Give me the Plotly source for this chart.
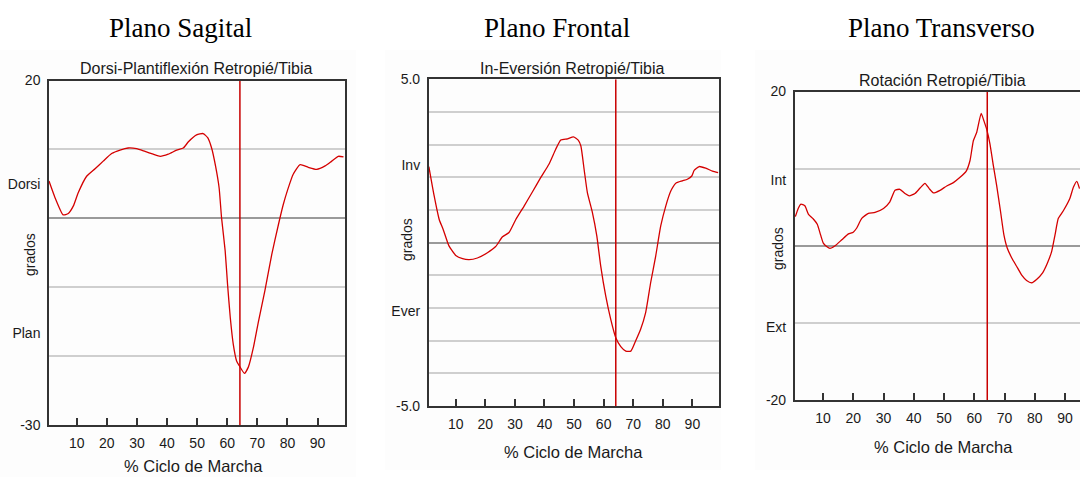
import plotly.graph_objects as go

# ---------------- data ----------------
# Panel 1: Dorsi-Plantiflexión Retropié/Tibia
sag_x = [0.8, 2.8, 5.5, 7.2, 8.9, 10.5, 13.3, 16.1, 18.8, 21.6, 24.4, 27.1, 29.9, 32.7, 35.4, 37.7,
         40.4, 43.2, 45.4, 47.1, 49.8, 52.0, 53.5, 54.8, 56.1, 57.3, 58.1, 59.3, 60.1, 61.0, 62.0,
         63.1, 64.0, 65.7, 67.0, 68.7, 70.3, 72.5, 74.8, 77.0, 78.6, 80.1, 81.9, 84.2, 86.9, 89.7,
         92.5, 94.7, 96.9, 98.6]
sag_y = [5.4, 3.0, 0.5, 0.7, 1.8, 3.7, 6.1, 7.2, 8.3, 9.4, 9.9, 10.2, 10.1, 9.7, 9.3, 9.0,
         9.3, 9.9, 10.2, 11.1, 12.1, 12.3, 11.7, 10.2, 7.6, 4.4, 0.1, -4.7, -9.6, -14.4, -18.3,
         -20.7, -21.4, -22.5, -21.6, -18.7, -15.1, -10.5, -5.2, -0.9, 2.0, 4.2, 6.4, 7.8, 7.4, 7.1,
         7.6, 8.3, 9.0, 8.9]

# Panel 2: In-Eversión Retropié/Tibia
fro_x = [0.9, 2.7, 4.4, 5.8, 7.7, 10.0, 12.3, 14.5, 17.3, 20.7, 23.5, 25.8, 28.0, 30.3, 33.1, 35.9,
         38.7, 41.5, 43.8, 45.5, 47.8, 49.8, 51.4, 52.3, 53.4, 54.5, 56.2, 57.7, 59.0, 60.7, 62.4,
         64.1, 65.8, 67.5, 69.2, 70.8, 72.5, 74.2, 75.9, 77.6, 79.3, 81.0, 82.7, 84.4, 86.6, 88.3,
         89.8, 90.6, 92.3, 94.5, 96.8, 98.7]
fro_y = [2.33, 1.43, 0.71, 0.39, -0.10, -0.39, -0.49, -0.52, -0.47, -0.31, -0.12, 0.18, 0.31, 0.71,
         1.12, 1.55, 1.99, 2.40, 2.86, 3.14, 3.18, 3.24, 3.14, 2.96, 2.24, 1.53, 0.92, 0.20, -0.71,
         -1.63, -2.35, -2.91, -3.18, -3.32, -3.32, -3.01, -2.65, -2.14, -1.22, -0.41, 0.51, 1.12,
         1.58, 1.82, 1.89, 1.94, 2.04, 2.21, 2.33, 2.28, 2.19, 2.14]

# Panel 3: Rotación Retropié/Tibia
tra_x = [0.85, 1.8, 2.7, 4.0, 5.2, 6.8, 8.1, 9.2, 10.1, 11.2, 12.3, 14.0, 16.2, 18.4, 20.0, 21.1,
         22.8, 25.0, 27.2, 30.0, 32.1, 33.8, 35.4, 37.1, 38.5, 40.4, 42.1, 43.7, 45.1, 46.5, 48.7,
         50.9, 53.1, 55.3, 57.3, 58.6, 59.7, 60.8, 62.3, 63.2, 64.1, 65.2, 66.3, 67.4, 68.7, 69.8,
         70.9, 72.4, 74.0, 75.7, 77.3, 79.0, 80.6, 82.6, 84.2, 85.6, 86.7, 87.8, 89.4, 91.6, 92.8,
         93.9, 94.8]
tra_y = [3.77, 4.84, 5.40, 5.18, 4.07, 3.47, 2.78, 1.41, 0.34, -0.09, -0.34, 0.0, 0.77, 1.54, 1.76,
         2.27, 3.55, 4.20, 4.33, 4.84, 5.70, 7.19, 7.32, 6.77, 6.47, 6.77, 7.49, 8.09, 7.41, 6.85,
         7.19, 7.75, 8.18, 8.87, 9.64, 11.05, 13.62, 14.69, 17.17, 16.19, 15.12, 13.19, 10.41, 7.84,
         4.41, 1.41, -0.30, -1.58, -2.66, -3.81, -4.50, -4.80, -4.37, -3.51, -2.23, -0.73, 1.41,
         3.55, 4.50, 6.12, 7.62, 8.35, 7.41]

toe_off = [64.2, 64.1, 64.3]          # vertical marker (% ciclo) per panel
y_ranges = [[-30, 20], [-5, 5], [-20, 20]]
x_ranges = [[0.8, 99.1], [0.85, 99.0], [0.64, 94.96]]
grid_vals = [[-20, -10, 10], [-4, -3, -2, -1, 1, 2, 3, 4], [-10, 10]]
ytick_vals = [[-30, -16.6, 4.9, 20], [-5, -2.08, 2.37, 5], [-20, -10.6, 8.5, 20]]
ytick_text = [["-30", "Plan", "Dorsi", "20"], ["-5.0", "Ever", "Inv", "5.0"],
              ["-20", "Ext", "Int", "20"]]
xtick_vals = [10, 20, 30, 40, 50, 60, 70, 80, 90]
plane_titles = ["Plano Sagital", "Plano Frontal", "Plano Transverso"]
chart_titles = ["Dorsi-Plantiflexión Retropié/Tibia", "In-Eversión Retropié/Tibia",
                "Rotación Retropié/Tibia"]
x_title = "% Ciclo de Marcha"
y_title = "grados"

# ---------------- layout geometry (pixels) ----------------
W, H = 1080, 477
plot_boxes = [(49, 345, 80.5, 425), (428.7, 719, 79.3, 406), (794.7, 1080, 91.5, 400)]
plane_title_pos = [(180, 28), (557, 28), (941, 28)]
chart_title_pos = [(196, 69), (572, 68), (942, 80)]
xtitle_pos = [(193, 466), (573, 452), (943, 447)]
ytitle_pos = [(30, 255), (407, 240), (778, 249)]
bg_boxes = [(0, 356, 50, 477), (385, 721, 50, 470), (755, 1080, 50, 470)]

RED = "#d40000"
AX = "#333333"
TXT = "#1a1a1a"
SANS = "Liberation Sans, Arial, sans-serif"

fig = go.Figure()
series = [(sag_x, sag_y), (fro_x, fro_y), (tra_x, tra_y)]

for i, (xs, ys) in enumerate(series):
    xa = "x" if i == 0 else f"x{i+1}"
    ya = "y" if i == 0 else f"y{i+1}"
    fig.add_trace(go.Scatter(x=[toe_off[i], toe_off[i]], y=y_ranges[i], mode="lines",
                             line=dict(color="#c80000", width=1.5), xaxis=xa, yaxis=ya,
                             showlegend=False, hoverinfo="skip"))
    fig.add_trace(go.Scatter(x=xs, y=ys, mode="lines",
                             line=dict(color=RED, width=1.3, shape="spline", smoothing=0.5),
                             xaxis=xa, yaxis=ya, showlegend=False))

layout = dict(width=W, height=H, margin=dict(l=0, r=0, t=0, b=0, autoexpand=False),
              paper_bgcolor="white", plot_bgcolor="white",
              font=dict(family=SANS, color=TXT, size=14))

shapes = []
annotations = []
for i in range(3):
    x0, x1, yt, yb = plot_boxes[i]
    xk = "xaxis" if i == 0 else f"xaxis{i+1}"
    yk = "yaxis" if i == 0 else f"yaxis{i+1}"
    yanchor = "y" if i == 0 else f"y{i+1}"
    xanchor = "x" if i == 0 else f"x{i+1}"
    layout[xk] = dict(domain=[x0 / W, min(x1 / W, 1.0)], anchor=yanchor, range=x_ranges[i],
                      automargin=False,
                      tickmode="array", tickvals=xtick_vals, ticks="inside", ticklen=7,
                      tickwidth=1.5, tickcolor=AX, showline=True, linecolor=AX, linewidth=1.5,
                      mirror=True, showgrid=False, zeroline=False,
                      tickfont=dict(size=14, family=SANS, color=TXT), ticklabelstandoff=4)
    layout[yk] = dict(domain=[1 - yb / H, 1 - yt / H], anchor=xanchor, range=y_ranges[i],
                      automargin=False,
                      tickmode="array", tickvals=ytick_vals[i], ticktext=ytick_text[i],
                      ticks="", showline=True, linecolor=AX, linewidth=1.5,
                      mirror=(i != 2), showgrid=False,
                      zeroline=True, zerolinecolor="#9a9a9a", zerolinewidth=1.5,
                      minor=dict(tickvals=grid_vals[i], showgrid=True, gridcolor="#cfcfcf",
                                 gridwidth=1.5, ticks=""),
                      tickfont=dict(size=14, family=SANS, color=TXT), ticklabelstandoff=4)
    bx0, bx1, by0, by1 = bg_boxes[i]
    shapes.append(dict(type="rect", xref="paper", yref="paper", x0=bx0 / W, x1=bx1 / W,
                       y0=1 - by1 / H, y1=1 - by0 / H, fillcolor="#fdfdfd",
                       line=dict(width=0), layer="below"))
    px, py = plane_title_pos[i]
    annotations.append(dict(text=plane_titles[i], x=px / W, y=1 - py / H, xref="paper",
                            yref="paper", showarrow=False, xanchor="center", yanchor="middle",
                            font=dict(family="Liberation Serif, Times New Roman, serif",
                                      size=27, color="black")))
    px, py = chart_title_pos[i]
    annotations.append(dict(text=chart_titles[i], x=px / W, y=1 - py / H, xref="paper",
                            yref="paper", showarrow=False, xanchor="center", yanchor="middle",
                            font=dict(family=SANS, size=16, color=TXT)))
    px, py = xtitle_pos[i]
    annotations.append(dict(text=x_title, x=px / W, y=1 - py / H, xref="paper",
                            yref="paper", showarrow=False, xanchor="center", yanchor="middle",
                            font=dict(family=SANS, size=16.5, color=TXT)))
    px, py = ytitle_pos[i]
    annotations.append(dict(text=y_title, x=px / W, y=1 - py / H, xref="paper",
                            yref="paper", showarrow=False, xanchor="center", yanchor="middle",
                            textangle=-90, font=dict(family=SANS, size=14, color=TXT)))

layout["shapes"] = shapes
layout["annotations"] = annotations
fig.update_layout(**layout)
fig.write_html("out.html", config={"displayModeBar": False},
               post_script="document.body.style.margin='0';document.body.style.overflow='hidden';")
